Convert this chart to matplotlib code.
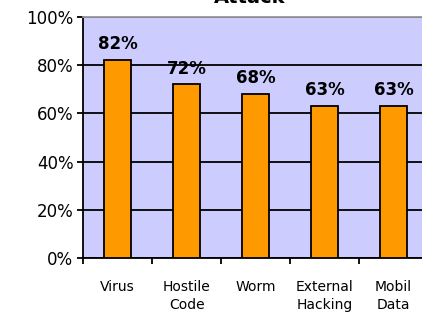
import numpy as np
import matplotlib
matplotlib.use("Agg")
import matplotlib.pyplot as plt

plt.rcParams['font.family'] = ['DejaVu Sans']

categories = ["Virus", "Hostile\nCode", "Worm", "External\nHacking", "Mobil\nData"]
values = [82, 72, 68, 63, 63]
labels = ["82%", "72%", "68%", "63%", "63%"]

fig = plt.figure(figsize=(4.22, 3.12), dpi=100)
ax = fig.add_axes([0.197, 0.173, 0.817, 0.773])
ax.set_facecolor("#CCCCFF")

x = np.arange(len(values))
ax.bar(x, values, width=0.4, color="#FF9900", edgecolor="black", linewidth=1.3, zorder=3)

for xi, v, lab in zip(x, values, labels):
    ax.text(xi, v + 4.5, lab, ha="center", va="baseline", fontsize=12, fontweight="bold", zorder=4)

ax.set_ylim(0, 100)
ax.set_xlim(-0.5, len(values) - 0.5)
ax.set_yticks([0, 20, 40, 60, 80, 100])
ax.set_yticklabels(["0%", "20%", "40%", "60%", "80%", "100%"], fontsize=12)
ax.yaxis.grid(True, color="black", linewidth=1.3, zorder=1)
ax.set_axisbelow(True)

ax.set_xticks(x)
ax.set_xticklabels(categories, fontsize=10, linespacing=1.3)
ax.tick_params(axis="x", length=0, pad=16)
ax.set_xticks(np.arange(len(values) + 1) - 0.5, minor=True)
ax.tick_params(axis="x", which="minor", length=4, width=1.3, direction="out")
ax.tick_params(axis="y", length=4, width=1.3, direction="out", pad=3)

ax.spines["top"].set_color("#999999")
ax.spines["top"].set_linewidth(1.3)
ax.spines["right"].set_visible(False)
ax.spines["left"].set_linewidth(1.3)
ax.spines["bottom"].set_linewidth(1.3)

fig.text(250 / 422, 1 - 3 / 312, "Attack", ha="center", va="baseline",
         fontsize=14, fontweight="bold")

fig.savefig("out.png", dpi=100)
